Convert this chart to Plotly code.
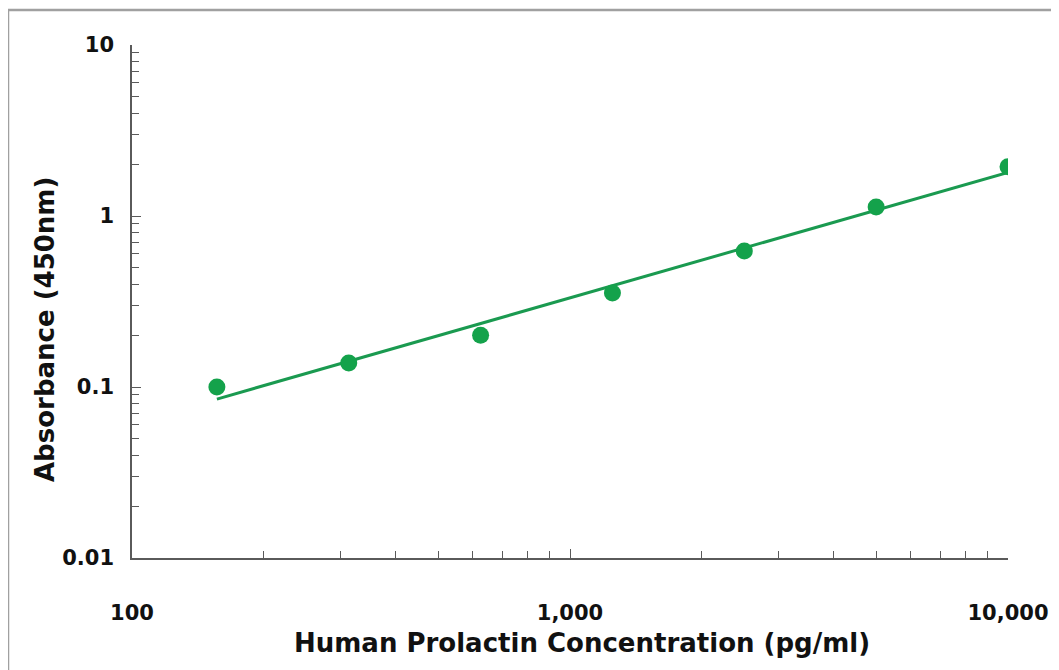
import plotly.graph_objects as go

# Data
concentration = [156.25, 312.5, 625, 1250, 2500, 5000, 10000]
absorbance = [0.100, 0.138, 0.201, 0.355, 0.624, 1.13, 1.94]
fit_x = [156.25, 10000]
fit_y = [0.085, 1.80]

x_tickvals = [100, 1000, 10000]
x_ticktext = ["100", "1,000", "10,000"]
y_tickvals = [0.01, 0.1, 1, 10]
y_ticktext = ["0.01", "0.1", "1", "10"]

W, H = 1059, 670
OFF = 8  # browser body margin
# plot area in page pixels
PX0, PX1, PY0, PY1 = 132, 1008, 45, 558
L, T = PX0 - OFF, PY0 - OFF
R, B = W - (PX1 - OFF), H - (PY1 - OFF)
pw, ph = PX1 - PX0, PY1 - PY0

green_marker = "#14A24B"
green_line = "#1A9A50"
axis_col = "#5a5a5a"
font_fam = "DejaVu Sans, Arial, sans-serif"
txt_col = "#111111"

fig = go.Figure()
fig.add_trace(go.Scatter(x=fit_x, y=fit_y, mode="lines",
                         line=dict(color=green_line, width=3), showlegend=False))
fig.add_trace(go.Scatter(x=concentration, y=absorbance, mode="markers",
                         marker=dict(color=green_marker, size=17), showlegend=False))

axis_common = dict(
    type="log", showgrid=False, zeroline=False, showline=True,
    linecolor=axis_col, linewidth=1.5,
    ticks="inside", ticklen=9, tickwidth=1.2, tickcolor=axis_col,
    minor=dict(ticks="inside", ticklen=7, tickwidth=1, tickcolor=axis_col,
               dtick="D1", showgrid=False),
    tickfont=dict(family=font_fam, size=21, color=txt_col, weight="bold"),
)

fig.update_xaxes(**axis_common, range=[2, 4], tickvals=x_tickvals, ticktext=x_ticktext,
                 ticklabelstandoff=35)
fig.update_yaxes(**axis_common, range=[-2, 1], tickvals=y_tickvals, ticktext=y_ticktext,
                 ticklabelstandoff=12)

def px_to_paper_x(px):
    return (px - PX0) / pw

def px_to_paper_y(py):
    return (PY1 - py) / ph

fig.add_annotation(text="<b>Human Prolactin Concentration (pg/ml)</b>",
                   xref="paper", yref="paper",
                   x=px_to_paper_x(582), y=px_to_paper_y(643),
                   showarrow=False, xanchor="center", yanchor="middle",
                   font=dict(family=font_fam, size=26, color=txt_col))
fig.add_annotation(text="<b>Absorbance (450nm)</b>",
                   xref="paper", yref="paper",
                   x=px_to_paper_x(45), y=px_to_paper_y(330),
                   showarrow=False, xanchor="center", yanchor="middle", textangle=-90,
                   font=dict(family=font_fam, size=26, color=txt_col))

# outer frame
fig.add_shape(type="rect", xref="paper", yref="paper",
              x0=px_to_paper_x(8), y0=px_to_paper_y(H + 20),
              x1=px_to_paper_x(W + 20), y1=px_to_paper_y(10),
              line=dict(color="#a0a0a0", width=2.5), fillcolor="rgba(0,0,0,0)",
              layer="below")

fig.update_layout(
    width=W, height=H,
    margin=dict(l=L, r=R, t=T, b=B, autoexpand=False),
    paper_bgcolor="white", plot_bgcolor="white",
)

fig.write_html("out.html")
